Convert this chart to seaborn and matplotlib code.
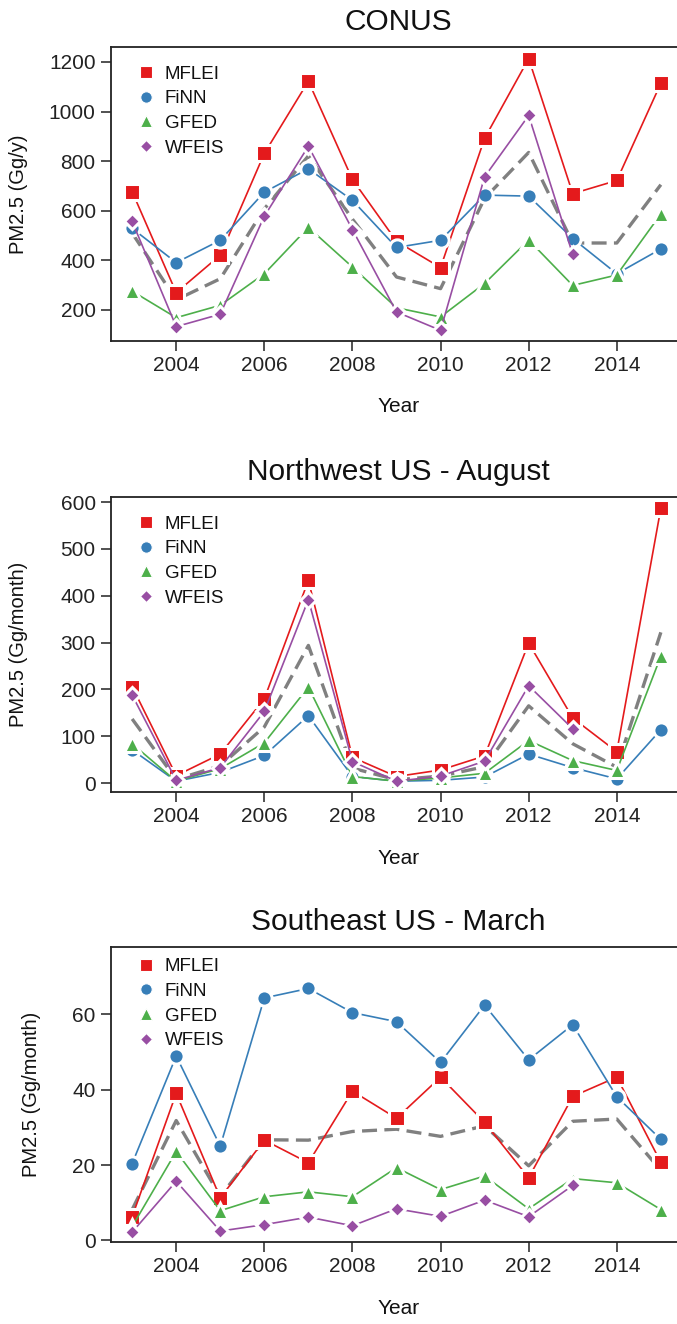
import numpy as np
import pandas as pd
import matplotlib
matplotlib.use("Agg")
import matplotlib.pyplot as plt
import seaborn as sns
from matplotlib.lines import Line2D

# ---------------- data ----------------
years = list(range(2003, 2016))
series_names = ["MFLEI", "FiNN", "GFED", "WFEIS"]
nan = np.nan

# CONUS (Gg/y)
conus_mflei = [677, 270, 421, 831, 1122, 726, 477, 371, 892, 1213, 669, 722, 1114]
conus_finn = [529, 391, 481, 675, 769, 642, 452, 481, 663, 659, 488, 346, 446]
conus_gfed = [276, 169, 219, 346, 533, 373, 209, 172, 307, 482, 299, 341, 587]
conus_wfeis = [557, 133, 183, 578, 860, 524, 192, 118, 737, 984, 424, nan, nan]
conus_mean = [510, 241, 326, 608, 821, 566, 333, 286, 650, 835, 470, 470, 705]

# Northwest US - August (Gg/month)
nw_mflei = [206, 16, 62, 180, 433, 55, 14, 28, 58, 299, 139, 67, 587]
nw_finn = [71, 4, 23, 59, 144, 14, 4, 6, 13, 62, 33, 9, 114]
nw_gfed = [84, 4, 31, 86, 205, 14, 4, 11, 21, 91, 48, 27, 271]
nw_wfeis = [188, 6, 33, 153, 392, 46, 4, 15, 47, 208, 116, nan, nan]
nw_mean = [137, 8, 37, 120, 294, 32, 7, 15, 35, 165, 84, 34, 322]

# Southeast US - March (Gg/month)
se_mflei = [6.3, 39.0, 11.3, 26.6, 20.6, 39.6, 32.4, 43.3, 31.3, 16.6, 38.2, 43.3, 20.7]
se_finn = [20.4, 48.9, 25.0, 64.3, 66.8, 60.4, 58.0, 47.2, 62.4, 47.9, 57.2, 38.1, 26.8]
se_gfed = [3.7, 23.6, 7.9, 11.6, 12.9, 11.6, 19.3, 13.5, 17.1, 8.4, 16.4, 15.3, 8.2]
se_wfeis = [2.2, 15.7, 2.5, 4.2, 6.2, 3.9, 8.4, 6.4, 10.7, 6.3, 14.6, nan, nan]
se_mean = [8.2, 31.8, 11.7, 26.7, 26.6, 28.9, 29.5, 27.6, 30.4, 19.8, 31.6, 32.2, 18.6]

titles = ["CONUS", "Northwest US - August", "Southeast US - March"]
ylabels = ["PM2.5 (Gg/y)", "PM2.5 (Gg/month)", "PM2.5 (Gg/month)"]
xlabel = "Year"
xticks = [2004, 2006, 2008, 2010, 2012, 2014]
yticks_list = [[200, 400, 600, 800, 1000, 1200],
               [0, 100, 200, 300, 400, 500, 600],
               [0, 20, 40, 60]]
ylims = [(75, 1260), (-19, 611), (-0.4, 77.8)]

panels = [
    [conus_mflei, conus_finn, conus_gfed, conus_wfeis, conus_mean],
    [nw_mflei, nw_finn, nw_gfed, nw_wfeis, nw_mean],
    [se_mflei, se_finn, se_gfed, se_wfeis, se_mean],
]

colors = ["#E41A1C", "#377EB8", "#4DAF4A", "#984EA3"]
markers = ["s", "o", "^", "D"]
msizes = [11.0, 11.0, 12.0, 8.5]
mean_color = "#808080"

# ---------------- style ----------------
sns.set_style("ticks")
plt.rcParams["font.family"] = ["Liberation Sans", "DejaVu Sans"]
plt.rcParams["text.color"] = "#111111"
plt.rcParams["axes.labelcolor"] = "#111111"
plt.rcParams["xtick.color"] = "#222222"
plt.rcParams["ytick.color"] = "#222222"

W, H = 677, 1324
fig = plt.figure(figsize=(W / 100, H / 100), dpi=100)

ax_px = [(47, 341), (497, 792), (947, 1242)]
left_px, right_px = 111, 686
legend_tops = [0.975, 0.975, 1.0]
ylabel_x = [-0.144, -0.144, -0.122]

for i, (vals, (top, bot)) in enumerate(zip(panels, ax_px)):
    ax = fig.add_axes([left_px / W, 1 - bot / H, (right_px - left_px) / W, (bot - top) / H])
    # ensemble mean (dashed)
    df_mean = pd.DataFrame({"Year": years, "val": vals[4]})
    sns.lineplot(data=df_mean, x="Year", y="val", ax=ax, color=mean_color,
                 lw=2.4, dashes=False, zorder=1.5)
    ax.lines[-1].set_dashes((4.5, 2.2))
    for j, name in enumerate(series_names):
        df = pd.DataFrame({"Year": years, "val": vals[j]}).dropna()
        sns.lineplot(data=df, x="Year", y="val", ax=ax, color=colors[j],
                     lw=1.2, marker=markers[j], markersize=msizes[j],
                     markeredgecolor="white", markeredgewidth=2.2,
                     zorder=2 + j * 0.1)
    ax.set_xlim(2002.52, 2002.52 + 12.96 * (right_px - left_px) / 571)
    ax.set_ylim(*ylims[i])
    ax.set_xticks(xticks)
    ax.set_xticklabels([str(x) for x in xticks])
    ax.set_yticks(yticks_list[i])
    ax.set_yticklabels([str(y) for y in yticks_list[i]])
    ax.tick_params(axis="both", labelsize=15, length=7, width=1.1, pad=4, direction="out")
    for s in ax.spines.values():
        s.set_linewidth(1.3)
        s.set_color("#222222")
    ax.spines["right"].set_visible(False)
    ax.set_xlabel(xlabel, fontsize=15, labelpad=16)
    ax.set_ylabel(ylabels[i], fontsize=14.5)
    ax.yaxis.set_label_coords(ylabel_x[i], 0.5)
    ax.set_title(titles[i], fontsize=21.5, pad=12)

    handles = [Line2D([], [], ls="none", marker=markers[j], color=colors[j],
                      markersize=msizes[j] * 0.75, markeredgecolor="white",
                      markeredgewidth=0.8) for j in range(4)]
    ax.legend(handles, series_names, loc="upper left", frameon=False,
              bbox_to_anchor=(0.025, legend_tops[i]), fontsize=13.5,
              handlelength=1.0, handletextpad=0.5, labelspacing=0.4,
              borderaxespad=0.2)

fig.savefig("out.png", dpi=100)
